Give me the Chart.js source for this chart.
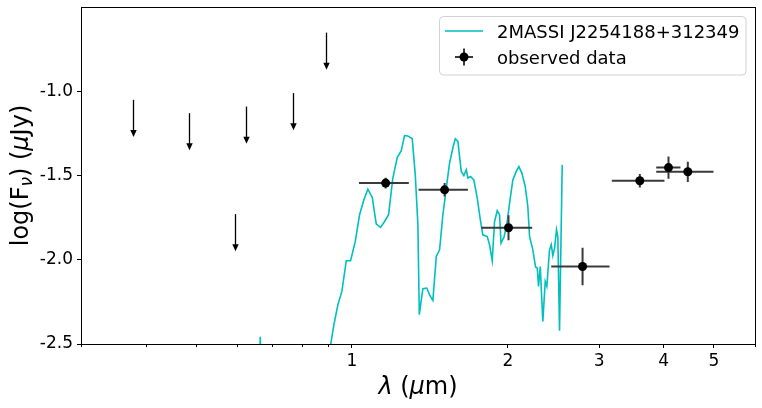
<!DOCTYPE html>
<html>
<head>
<meta charset="utf-8">
<script src="https://cdn.jsdelivr.net/npm/chart.js@4.4.1/dist/chart.umd.min.js"></script>
<style>
  body { margin: 0; background: #fff; }
  canvas { display: block; }
</style>
</head>
<body>
<canvas id="myChart" width="762" height="408"></canvas>
<script>
// model spectrum (log flux vs wavelength in micron)
const modelName = "2MASSI J2254188+312349";
const modelWave = [0.60, 0.662, 0.6655, 0.669, 0.85, 0.898, 0.910, 0.9231, 0.9397, 0.9565, 0.9754, 0.9942,
  1.0152, 1.0348, 1.0548, 1.0737, 1.0948, 1.1145, 1.1360, 1.1564, 1.1771, 1.1997, 1.2234, 1.2454,
  1.2638, 1.2825, 1.3078, 1.3255, 1.3410, 1.3494, 1.3709, 1.3955, 1.4124, 1.4333, 1.4553, 1.4767,
  1.4985, 1.5214, 1.5436, 1.5665, 1.5832, 1.6019, 1.6260, 1.6449, 1.6627, 1.6746, 1.6948, 1.7196,
  1.7459, 1.7718, 1.7898, 1.8252, 1.8438, 1.8660, 1.8855, 1.9082, 1.9277, 1.9406, 1.9667, 1.9949,
  2.0154, 2.0452, 2.0764, 2.1005, 2.1288, 2.1610, 2.1860, 2.2026, 2.2353, 2.2622, 2.2794, 2.2926,
  2.3101, 2.3368, 2.3617, 2.3786, 2.4072, 2.4256, 2.4430, 2.4616, 2.4833, 2.4977, 2.5166, 2.5470];
const modelFlux = [-2.9, -2.8, -2.457, -2.8, -2.9, -2.65, -2.504, -2.386, -2.267, -2.188, -2.006, -2.006,
  -1.891, -1.733, -1.644, -1.581, -1.630, -1.788, -1.808, -1.773, -1.733, -1.515, -1.393, -1.353,
  -1.263, -1.265, -1.282, -1.496, -1.792, -2.326, -2.172, -2.168, -2.208, -2.241, -1.980, -1.941,
  -1.733, -1.575, -1.426, -1.337, -1.282, -1.298, -1.476, -1.500, -1.466, -1.515, -1.506, -1.526,
  -1.634, -1.773, -1.852, -1.862, -1.911, -2.006, -1.773, -1.709, -1.733, -1.901, -1.865, -1.773,
  -1.664, -1.526, -1.476, -1.447, -1.486, -1.565, -1.684, -1.862, -1.941, -2.043, -2.049, -2.158,
  -2.040, -2.366, -2.129, -2.158, -1.941, -1.911, -1.976, -1.931, -1.822, -1.862, -2.421, -1.437];

// observed photometry
const obsWave = [1.162, 1.510, 2.006, 2.788, 3.596, 4.085, 4.451];
const obsFlux = [-1.545, -1.585, -1.810, -2.040, -1.531, -1.453, -1.478];
const obsWaveLo = [1.032, 1.345, 1.777, 2.426, 3.175, 3.868, 3.868];
const obsWaveHi = [1.288, 1.675, 2.229, 3.143, 4.012, 4.308, 4.989];
const obsFluxErr = [0.032, 0.040, 0.074, 0.111, 0.040, 0.066, 0.060];

// upper limits
const limitWave = [0.3786, 0.4856, 0.5956, 0.6255, 0.7692, 0.8897];
const limitFlux = [-1.051, -1.130, -1.729, -1.091, -1.011, -0.652];

const xTickValues = [1, 2, 3, 4, 5];
const xMinorValues = [0.3, 0.4, 0.5, 0.6, 0.7, 0.8, 0.9, 6];
const yTickValues = [-2.5, -2.0, -1.5, -1.0];

const Chart = window.Chart;
const FONT = "'DejaVu Sans', sans-serif";
const CYAN = "#00bfbf";
const ARROW_LEN = 0.22;

function drawRich(ctx, parts, x, y, align) {
  let w = 0;
  parts.forEach(p => { ctx.font = p.font; w += ctx.measureText(p.t).width; });
  let cx = align === "center" ? x - w / 2 : x;
  parts.forEach(p => {
    ctx.font = p.font;
    ctx.fillText(p.t, cx, y + (p.dy || 0));
    cx += ctx.measureText(p.t).width;
  });
}

const extras = {
  id: "extras",
  beforeDatasetDraw(chart, args) {
    if (args.index !== 0) return;
    const ctx = chart.ctx;
    const xs = chart.scales.x, ys = chart.scales.y;
    ctx.save();
    // error bars
    ctx.strokeStyle = "#3a3a3a";
    ctx.lineWidth = 2;
    obsWave.forEach((w, i) => {
      const px = xs.getPixelForValue(w), py = ys.getPixelForValue(obsFlux[i]);
      ctx.beginPath();
      ctx.moveTo(xs.getPixelForValue(obsWaveLo[i]), py);
      ctx.lineTo(xs.getPixelForValue(obsWaveHi[i]), py);
      ctx.moveTo(px, ys.getPixelForValue(obsFlux[i] - obsFluxErr[i]));
      ctx.lineTo(px, ys.getPixelForValue(obsFlux[i] + obsFluxErr[i]));
      ctx.stroke();
    });
    // upper limit arrows
    ctx.strokeStyle = "#000";
    ctx.fillStyle = "#000";
    ctx.lineWidth = 1.3;
    limitWave.forEach((w, i) => {
      const px = Math.round(xs.getPixelForValue(w)) + 0.5;
      const top = ys.getPixelForValue(limitFlux[i]);
      const tip = ys.getPixelForValue(limitFlux[i] - ARROW_LEN);
      ctx.beginPath();
      ctx.moveTo(px, top);
      ctx.lineTo(px, tip - 5);
      ctx.stroke();
      ctx.beginPath();
      ctx.moveTo(px - 3.2, tip - 7);
      ctx.lineTo(px + 3.2, tip - 7);
      ctx.lineTo(px, tip);
      ctx.closePath();
      ctx.fill();
    });
    ctx.restore();
  },
  afterDraw(chart) {
    const ctx = chart.ctx;
    const a = chart.chartArea;
    const xs = chart.scales.x;
    ctx.save();
    // frame
    ctx.strokeStyle = "#000";
    ctx.lineWidth = 1;
    const l = Math.round(a.left) + 0.5, r = Math.round(a.right) + 0.5;
    const t = Math.round(a.top) + 0.5, b = Math.round(a.bottom) + 0.5;
    ctx.strokeRect(l, t, r - l, b - t);
    // minor ticks
    ctx.beginPath();
    xMinorValues.forEach(v => {
      const px = Math.round(xs.getPixelForValue(v)) + 0.5;
      ctx.moveTo(px, b);
      ctx.lineTo(px, b + 2.5);
    });
    ctx.stroke();

    // axis titles
    ctx.fillStyle = "#000";
    ctx.textBaseline = "alphabetic";
    const n = "24px " + FONT, it = "italic 24px " + FONT;
    drawRich(ctx, [{ t: "λ", font: it }, { t: " (", font: n }, { t: "μ", font: it }, { t: "m)", font: n }],
      (a.left + a.right) / 2, 394, "center");
    ctx.save();
    ctx.translate(28, (a.top + a.bottom) / 2);
    ctx.rotate(-Math.PI / 2);
    drawRich(ctx, [{ t: "log(F", font: n }, { t: "ν", font: "italic 17px " + FONT, dy: 4 },
      { t: ") (", font: n }, { t: "μ", font: it }, { t: "Jy)", font: n }], 0, 0, "center");
    ctx.restore();

    // legend
    const bx = 439.5, by = 16.5, bw = 306.5, bh = 58.5, rad = 4;
    ctx.beginPath();
    ctx.moveTo(bx + rad, by);
    ctx.arcTo(bx + bw, by, bx + bw, by + bh, rad);
    ctx.arcTo(bx + bw, by + bh, bx, by + bh, rad);
    ctx.arcTo(bx, by + bh, bx, by, rad);
    ctx.arcTo(bx, by, bx + bw, by, rad);
    ctx.closePath();
    ctx.fillStyle = "rgba(255,255,255,0.8)";
    ctx.fill();
    ctx.strokeStyle = "#d0d0d0";
    ctx.stroke();

    ctx.strokeStyle = CYAN;
    ctx.lineWidth = 1.6;
    ctx.beginPath();
    ctx.moveTo(445, 31);
    ctx.lineTo(483, 31);
    ctx.stroke();

    ctx.strokeStyle = "#3a3a3a";
    ctx.lineWidth = 2;
    ctx.beginPath();
    ctx.moveTo(455, 57);
    ctx.lineTo(473, 57);
    ctx.moveTo(464, 48.5);
    ctx.lineTo(464, 65.5);
    ctx.stroke();
    ctx.fillStyle = "#000";
    ctx.beginPath();
    ctx.arc(464, 57, 4.5, 0, Math.PI * 2);
    ctx.fill();

    ctx.font = "18px " + FONT;
    ctx.fillText(modelName, 497, 37.5);
    ctx.fillText("observed data", 497, 63.5);
    ctx.restore();
  }
};

const tickFont = { family: FONT, size: 17 };

new Chart(document.getElementById("myChart").getContext("2d"), {
  type: "scatter",
  data: {
    datasets: [
      {
        label: "observed data",
        data: obsWave.map((w, i) => ({ x: w, y: obsFlux[i] })),
        backgroundColor: "#000",
        borderColor: "#000",
        pointRadius: 4.5,
        pointHoverRadius: 4.5,
        borderWidth: 0,
      },
      {
        label: modelName,
        type: "line",
        data: modelWave.map((w, i) => ({ x: w, y: modelFlux[i] })),
        borderColor: CYAN,
        borderWidth: 1.6,
        pointRadius: 0,
        tension: 0,
        fill: false,
      },
    ],
  },
  options: {
    responsive: false,
    animation: false,
    devicePixelRatio: 1,
    layout: { padding: { top: 7, right: 7, left: 0, bottom: 0 } },
    plugins: { legend: { display: false }, tooltip: { enabled: false } },
    scales: {
      x: {
        type: "logarithmic",
        min: 0.3,
        max: 6,
        border: { display: false },
        grid: {
          drawOnChartArea: false,
          tickLength: 4,
          tickColor: c => (xTickValues.includes(c.tick && c.tick.value) ? "#000" : "rgba(0,0,0,0)"),
        },
        ticks: {
          autoSkip: false,
          maxRotation: 0,
          padding: 3,
          color: "#000",
          font: tickFont,
          callback: v => (xTickValues.includes(v) ? String(v) : ""),
        },
        afterBuildTicks: s => {
          s.ticks = xMinorValues.concat(xTickValues).sort((p, q) => p - q).map(v => ({ value: v }));
        },
        afterFit: s => { s.height = 64; s.paddingLeft = 0; s.paddingRight = 0; },
      },
      y: {
        min: -2.5,
        max: -0.5,
        border: { display: false },
        grid: { drawOnChartArea: false, tickLength: 4, tickColor: "#000" },
        ticks: {
          padding: 4,
          color: "#000",
          font: tickFont,
          callback: v => v.toFixed(1),
        },
        afterBuildTicks: s => { s.ticks = yTickValues.map(v => ({ value: v })); },
        afterFit: s => { s.width = 81; s.paddingTop = 0; s.paddingBottom = 0; },
      },
    },
  },
  plugins: [extras],
});
</script>
</body>
</html>
